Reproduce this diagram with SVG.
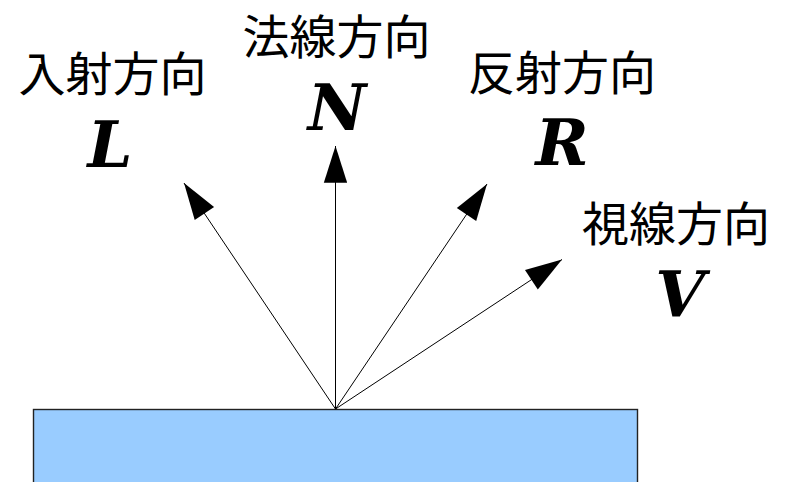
<svg xmlns="http://www.w3.org/2000/svg" width="789" height="482" viewBox="0 0 789 482">
<style>
.jp{font-family:"Noto Sans CJK JP","Noto Sans",sans-serif;font-size:47px;fill:#000;text-anchor:middle}
.v{font-family:"DejaVu Serif",serif;font-weight:bold;font-style:italic;font-size:64px;fill:#000;text-anchor:middle}
.ray{stroke:#000;stroke-width:1;fill:none;marker-end:url(#ah)}
</style>
<defs>
<marker id="ah" markerUnits="userSpaceOnUse" markerWidth="40" markerHeight="30" viewBox="-34 -12 36 24" refX="0" refY="0" orient="auto">
<path d="M0,0 L-33,-10.5 L-33,10.5 Z" fill="#000"/>
</marker>
</defs>
<rect width="789" height="482" fill="#fff"/>
<g id="surface">
<rect x="33.5" y="409.5" width="604" height="80" fill="#99ccff" stroke="#222" stroke-width="1.4"/>
</g>
<g id="connectors">
<line class="ray" x1="335.5" y1="409" x2="184" y2="183"/>
<line class="ray" x1="335.5" y1="409" x2="335.5" y2="146"/>
<line class="ray" x1="335.5" y1="409" x2="487" y2="184"/>
<line class="ray" x1="335.5" y1="409" x2="562" y2="259.5"/>
</g>
<g id="incident">
<text class="jp" x="112.5" y="91">入射方向</text>
<text class="v" x="110" y="167">L</text>
</g>
<g id="normal">
<text class="jp" x="336.5" y="54">法線方向</text>
<text class="v" x="337" y="130">N</text>
</g>
<g id="reflect">
<text class="jp" x="562" y="90">反射方向</text>
<text class="v" x="562" y="165">R</text>
</g>
<g id="view">
<text class="jp" x="676" y="241">視線方向</text>
<text class="v" x="680" y="317">V</text>
</g>
</svg>
